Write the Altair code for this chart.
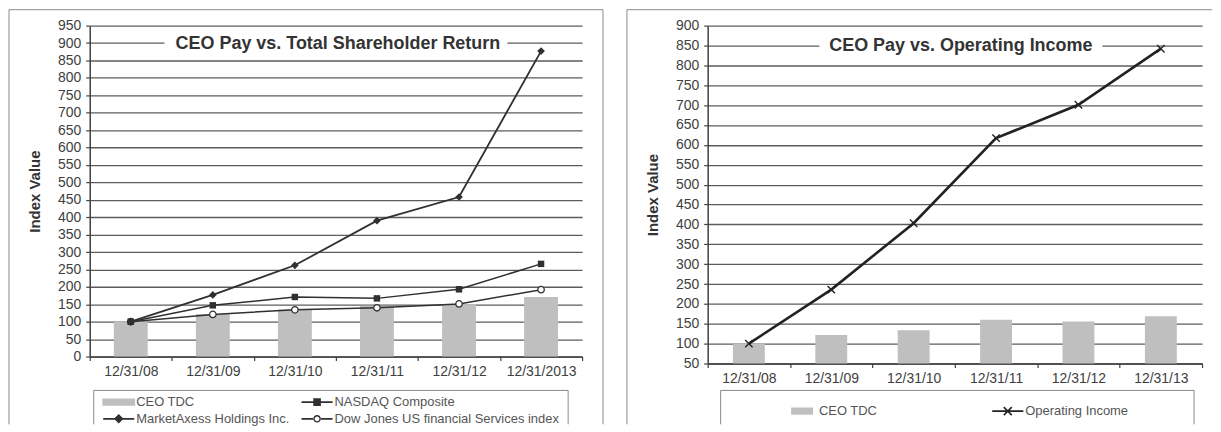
import altair as alt
import pandas as pd

# ---------------- data ----------------
dates_left = ["12/31/08", "12/31/09", "12/31/10", "12/31/11", "12/31/12", "12/31/2013"]
series_left = ["CEO TDC", "NASDAQ Composite", "MarketAxess Holdings Inc.",
               "Dow Jones US financial Services index"]
ceo_tdc_left = [100, 122, 135, 146, 150, 171]
nasdaq = [100, 147, 171, 167, 193, 266]
marketaxess = [100, 177, 262, 390, 458, 877]
dowjones = [100, 121, 134, 140, 151, 192]
yticks_left = list(range(0, 951, 50))

dates_right = ["12/31/08", "12/31/09", "12/31/10", "12/31/11", "12/31/12", "12/31/13"]
series_right = ["CEO TDC", "Operating Income"]
ceo_tdc_right = [100, 122, 134, 160, 156, 169]
operating_income = [100, 236, 403, 617, 701, 842]
yticks_right = list(range(50, 901, 50))

title_left = "CEO Pay vs. Total Shareholder Return"
title_right = "CEO Pay vs. Operating Income"
y_title = "Index Value"

# ---------------- styles ----------------
FONT = "Liberation Sans"
DARK = "#303030"
BARC = "#bfbfbf"
GRID = "#5c5c5c"
FRAME = "#8a8a8a"
W1, H1 = 494, 332
W2, H2 = 496, 339

def long_df(dates, cols):
    rows = []
    for name, vals in cols.items():
        for d, v in zip(dates, vals):
            rows.append({"date": d, "series": name, "value": v})
    return pd.DataFrame(rows)

df_left = long_df(dates_left, {
    series_left[0]: ceo_tdc_left, series_left[1]: nasdaq,
    series_left[2]: marketaxess, series_left[3]: dowjones})
df_right = long_df(dates_right, {
    series_right[0]: ceo_tdc_right, series_right[1]: operating_income})

one = pd.DataFrame({"k": [0]})

# legend symbol paths (units: sqrt(size)/2 px)
LN_POS = "M-3.9,-0.2L3.9,-0.2L3.9,0.2L-3.9,0.2Z"
LN_NEG = "M-3.9,-0.2L-3.9,0.2L3.9,0.2L3.9,-0.2Z"
P_BAR_L = "M-4.1,-0.9L4.1,-0.9L4.1,0.9L-4.1,0.9Z"
P_NASDAQ = LN_POS + " M-0.95,-0.95L0.95,-0.95L0.95,0.95L-0.95,0.95Z"
P_MKTX = LN_POS + " M0,-1.2L1.2,0L0,1.2L-1.2,0Z"
P_DOW = ("M-3.9,-0.2L-1.0,-0.2L-1.0,0.2L-3.9,0.2Z "
         "M1.0,-0.2L3.9,-0.2L3.9,0.2L1.0,0.2Z "
         "M0.95,0A0.95,0.95 0 1,1 -0.95,0A0.95,0.95 0 1,1 0.95,0Z "
         "M0.6,0A0.6,0.6 0 1,0 -0.6,0A0.6,0.6 0 1,0 0.6,0Z")
P_BAR_R = "M-2.6,-0.9L2.9,-0.9L2.9,0.9L-2.6,0.9Z"
P_OPINC = (LN_NEG + " M-1.14,-0.86L0.86,1.14L1.14,0.86L-0.86,-1.14Z"
           " M-0.86,1.14L1.14,-0.86L0.86,-1.14L-1.14,0.86Z")
X_MARK = "M-1,-1L1,1M-1,1L1,-1"


def hrule(x1, x2, y, color=FRAME, w=1):
    return alt.Chart(one).mark_rule(color=color, strokeWidth=w).encode(
        x=alt.value(x1), x2=alt.value(x2), y=alt.value(y))


def vrule(x, y1, y2, color=FRAME, w=1):
    return alt.Chart(one).mark_rule(color=color, strokeWidth=w).encode(
        x=alt.value(x), y=alt.value(y1), y2=alt.value(y2))


def axes(dates, yticks, ydomain):
    xenc = alt.X("date:N", sort=dates, title=None,
                 scale=alt.Scale(paddingInner=0, paddingOuter=0),
                 axis=alt.Axis(labelAngle=0, tickBand="extent", tickSize=4,
                               labelPadding=4, grid=False))
    yenc = alt.Y("value:Q", title=y_title,
                 scale=alt.Scale(domain=ydomain, nice=False, zero=False),
                 axis=alt.Axis(values=yticks, grid=True, tickSize=4,
                               labelPadding=5, titlePadding=15))
    return xenc, yenc


def legend(x, y, colpad):
    return alt.Legend(title=None, orient="none", legendX=x, legendY=y,
                      columns=2, direction="horizontal", columnPadding=colpad,
                      rowPadding=3, symbolSize=64, symbolOffset=11.6,
                      labelOffset=11, symbolStrokeWidth=0, padding=0,
                      labelFont=FONT, labelFontSize=13, labelColor="#555555",
                      labelLimit=400)


# ---------------- left chart ----------------
xL, yL = axes(dates_left, yticks_left, [0, 950])
baseL = alt.Chart(df_left)

barsL = baseL.transform_filter(alt.datum.series == series_left[0]).mark_bar(
    size=34, color=BARC).encode(x=xL, y=yL)

def line_pts(base, name, line_w, point_mark):
    b = base.transform_filter(alt.datum.series == name)
    return [b.mark_line(color=DARK, strokeWidth=line_w).encode(x=xL, y=yL),
            point_mark(b).encode(x=xL, y=yL)]

layers_left = [barsL]
layers_left += line_pts(baseL, series_left[3], 1.5,
                        lambda b: b.mark_point(shape="circle", filled=True, fill="white",
                                               stroke=DARK, strokeWidth=1.3, size=42, opacity=1))
layers_left += line_pts(baseL, series_left[1], 1.5,
                        lambda b: b.mark_point(shape="square", filled=True, color=DARK,
                                               size=42, opacity=1))
layers_left += line_pts(baseL, series_left[2], 1.8,
                        lambda b: b.mark_point(shape="diamond", filled=True, color=DARK,
                                               size=60, opacity=1))

legL = baseL.transform_filter("datum.value < 0").mark_point(filled=True, opacity=1).encode(
    color=alt.Color("series:N", scale=alt.Scale(domain=series_left,
                                                range=[BARC, DARK, DARK, DARK]),
                    legend=legend(11, 371, 9)),
    shape=alt.Shape("series:N", scale=alt.Scale(domain=series_left,
                                                range=[P_BAR_L, P_NASDAQ, P_MKTX, P_DOW]),
                    legend=legend(11, 371, 9)),
)

titleL = [
    alt.Chart(one).mark_rect(color="white").encode(
        x=alt.value(W1 / 2 - 172), x2=alt.value(W1 / 2 + 172),
        y=alt.value(9), y2=alt.value(27)),
    alt.Chart(one).mark_text(text=title_left, font=FONT, fontSize=18, fontWeight="bold",
                             color="#333333", align="center", baseline="middle").encode(
        x=alt.value(W1 / 2 + 2), y=alt.value(18)),
]

frameL = [
    hrule(-81, 515, -16), vrule(-81, -16, 400), vrule(515, -16, 400),
    hrule(4, 480, 366), vrule(4, 366, 400), vrule(480, 366, 400),
]

left = alt.layer(*frameL, *titleL, *layers_left, legL).properties(width=W1, height=H1)

# ---------------- right chart ----------------
xR, yR = axes(dates_right, yticks_right, [50, 900])
baseR = alt.Chart(df_right)

barsR = baseR.transform_filter(alt.datum.series == series_right[0]).mark_bar(
    size=32, color=BARC, clip=True).encode(x=xR, y=yR)
opR = baseR.transform_filter(alt.datum.series == series_right[1])
lineR = opR.mark_line(color="#222222", strokeWidth=2.6).encode(x=xR, y=yR)
ptsR = opR.mark_point(shape=X_MARK, filled=False, stroke="#222222", strokeWidth=1.4,
                      size=55, opacity=1).encode(x=xR, y=yR)

legR = baseR.transform_filter("datum.value < 0").mark_point(filled=True, opacity=1).encode(
    color=alt.Color("series:N", scale=alt.Scale(domain=series_right, range=[BARC, "#222222"]),
                    legend=legend(76, 380, 112)),
    shape=alt.Shape("series:N", scale=alt.Scale(domain=series_right, range=[P_BAR_R, P_OPINC]),
                    legend=legend(76, 380, 112)),
)

titleR = [
    alt.Chart(one).mark_rect(color="white").encode(
        x=alt.value(254 - 142), x2=alt.value(254 + 142),
        y=alt.value(11), y2=alt.value(29)),
    alt.Chart(one).mark_text(text=title_right, font=FONT, fontSize=18, fontWeight="bold",
                             color="#333333", align="center", baseline="middle").encode(
        x=alt.value(254), y=alt.value(20)),
]

frameR = [
    hrule(-81, 506, -16), vrule(-81, -16, 400),
    hrule(13, 488, 366), vrule(13, 366, 400), vrule(488, 366, 400),
]

right = alt.layer(*frameR, *titleR, barsR, lineR, ptsR, legR).properties(width=W2, height=H2)

chart = alt.hconcat(left, right, spacing=22).properties(
    padding=0, background="white"
).configure_view(stroke="transparent").configure_axis(
    labelFont=FONT, labelFontSize=14, labelColor="#404040",
    titleFont=FONT, titleFontSize=15, titleFontWeight="bold", titleColor="#333333",
    domainColor="#404040", domainWidth=1.5, tickColor="#404040", tickWidth=1.2,
    gridColor=GRID, gridWidth=1.3,
).resolve_scale(color="independent", shape="independent")

chart.save("out.html", embed_options={"renderer": "svg", "actions": False})
